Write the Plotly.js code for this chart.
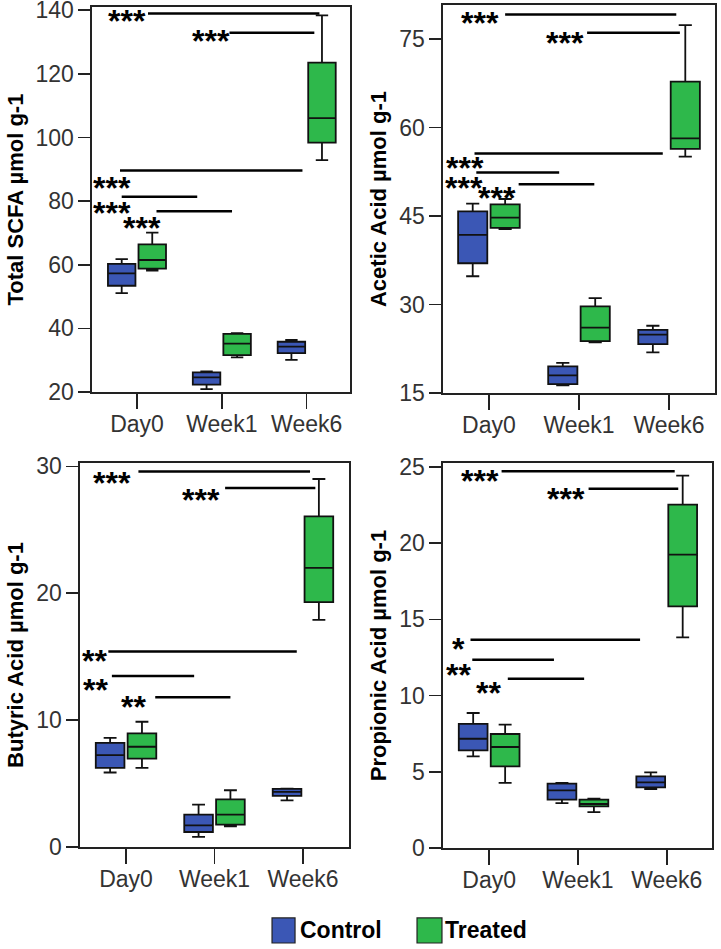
<!DOCTYPE html>
<html>
<head>
<meta charset="utf-8">
<script src="https://cdn.plot.ly/plotly-3.0.1.min.js"></script>
<style>
  body { margin: 0; background: #fff; }
  #chart { width: 721px; height: 949px; }
</style>
</head>
<body>
<div id="chart"></div>
<script>
// categories
var timepoints = ['Day0', 'Week1', 'Week6'];

// Total SCFA
var scfaCtrlQ1 = [53.4, 22.3, 32.2], scfaCtrlMed = [57.3, 24.6, 34.3], scfaCtrlQ3 = [60.3, 26.2, 35.8];
var scfaCtrlLo = [51.1, 20.9, 30.1], scfaCtrlHi = [61.8, 26.5, 36.4];
var scfaTrtQ1 = [58.8, 31.6, 98.4], scfaTrtMed = [61.5, 35.2, 106.1], scfaTrtQ3 = [66.4, 38.3, 123.5];
var scfaTrtLo = [58.2, 30.9, 92.9], scfaTrtHi = [70.1, 38.5, 138.4];

// Acetic acid
var aceCtrlQ1 = [37.0, 16.5, 23.3], aceCtrlMed = [41.8, 18.0, 24.9], aceCtrlQ3 = [45.8, 19.5, 25.7];
var aceCtrlLo = [34.8, 16.3, 21.9], aceCtrlHi = [47.1, 20.1, 26.4];
var aceTrtQ1 = [43.0, 23.8, 56.4], aceTrtMed = [44.75, 26.1, 58.2], aceTrtQ3 = [47.0, 29.7, 67.8];
var aceTrtLo = [42.8, 23.6, 55.1], aceTrtHi = [47.9, 31.1, 77.4];

// Butyric acid
var butCtrlQ1 = [6.24, 1.18, 4.03], butCtrlMed = [7.24, 1.71, 4.34], butCtrlQ3 = [8.2, 2.55, 4.58];
var butCtrlLo = [5.87, 0.79, 3.68], butCtrlHi = [8.6, 3.34, 4.6];
var butTrtQ1 = [6.97, 1.76, 19.3], butTrtMed = [7.9, 2.55, 22.0], butTrtQ3 = [8.95, 3.76, 26.05];
var butTrtLo = [6.24, 1.63, 17.9], butTrtHi = [9.87, 4.47, 29.0];

// Propionic acid
var proCtrlQ1 = [6.41, 3.17, 3.98], proCtrlMed = [7.17, 3.78, 4.31], proCtrlQ3 = [8.14, 4.22, 4.7];
var proCtrlLo = [6.01, 2.95, 3.87], proCtrlHi = [8.86, 4.27, 4.96];
var proTrtQ1 = [5.36, 2.73, 15.86], proTrtMed = [6.63, 2.89, 19.25], proTrtQ3 = [7.48, 3.17, 22.53];
var proTrtLo = [4.27, 2.36, 13.82], proTrtHi = [8.09, 3.24, 24.43];

// significance brackets: label, line start, line end, line level, label x, label y
var scfaSigText = ['***', '***', '***', '***', '***'];
var scfaSigX0 = [0.13, 1.09, -0.2, -0.18, 0.23];
var scfaSigX1 = [2.15, 2.09, 1.95, 0.71, 1.12];
var scfaSigY = [139, 132.9, 89.6, 81.4, 76.8];
var scfaSigTx = [-0.12, 0.87, -0.29, -0.29, 0.06];
var scfaSigTy = [139, 132.9, 86.6, 78.8, 74.1];

var aceSigText = ['***', '***', '***', '***', '***'];
var aceSigX0 = [0.18, 1.09, -0.16, -0.14, 0.33];
var aceSigX1 = [2.08, 2.12, 1.93, 0.78, 1.17];
var aceSigY = [79.2, 76.1, 55.6, 52.4, 50.4];
var aceSigTx = [-0.1, 0.84, -0.27, -0.28, 0.09];
var aceSigTy = [79.1, 75.7, 54.5, 51.1, 49.4];

var butSigText = ['***', '***', '**', '**', '**'];
var butSigX0 = [0.14, 1.12, -0.2, -0.16, 0.33];
var butSigX1 = [2.08, 2.14, 1.93, 0.77, 1.18];
var butSigY = [29.6, 28.3, 15.4, 13.47, 11.8];
var butSigTx = [-0.16, 0.85, -0.36, -0.34, 0.09];
var butSigTy = [29.34, 28.0, 15.26, 13.03, 11.7];

var proSigText = ['***', '***', '*', '**', '**'];
var proSigX0 = [0.14, 1.12, -0.21, -0.19, 0.21];
var proSigX1 = [2.09, 2.13, 1.7, 0.73, 1.07];
var proSigY = [24.72, 23.58, 13.67, 12.36, 11.1];
var proSigTx = [-0.1, 0.87, -0.34, -0.34, -0.01];
var proSigTy = [24.6, 23.4, 13.56, 11.9, 10.7];

var ctrlColor = '#3B57B5';
var trtColor = '#2EB84B';

function boxTrace(name, color, q1, med, q3, lo, hi, ax) {
  return {
    type: 'box', name: name, x: timepoints,
    q1: q1, median: med, q3: q3, lowerfence: lo, upperfence: hi,
    xaxis: 'x' + ax, yaxis: 'y' + ax,
    alignmentgroup: 'panel' + ax, offsetgroup: name,
    fillcolor: color, line: { color: '#111', width: 1.8 },
    whiskerwidth: 0.45, boxpoints: false, hoverinfo: 'skip',
    showlegend: false
  };
}

var data = [
  boxTrace('Control', ctrlColor, scfaCtrlQ1, scfaCtrlMed, scfaCtrlQ3, scfaCtrlLo, scfaCtrlHi, ''),
  boxTrace('Treated', trtColor, scfaTrtQ1, scfaTrtMed, scfaTrtQ3, scfaTrtLo, scfaTrtHi, ''),
  boxTrace('Control', ctrlColor, aceCtrlQ1, aceCtrlMed, aceCtrlQ3, aceCtrlLo, aceCtrlHi, '2'),
  boxTrace('Treated', trtColor, aceTrtQ1, aceTrtMed, aceTrtQ3, aceTrtLo, aceTrtHi, '2'),
  boxTrace('Control', ctrlColor, butCtrlQ1, butCtrlMed, butCtrlQ3, butCtrlLo, butCtrlHi, '3'),
  boxTrace('Treated', trtColor, butTrtQ1, butTrtMed, butTrtQ3, butTrtLo, butTrtHi, '3'),
  boxTrace('Control', ctrlColor, proCtrlQ1, proCtrlMed, proCtrlQ3, proCtrlLo, proCtrlHi, '4'),
  boxTrace('Treated', trtColor, proTrtQ1, proTrtMed, proTrtQ3, proTrtLo, proTrtHi, '4')
];

var shapes = [];
var annotations = [];

function addSig(ax, txt, x0, x1, y, tx, ty) {
  for (let i = 0; i < txt.length; i++) {
    shapes.push({
      type: 'line', xref: 'x' + ax, yref: 'y' + ax,
      x0: x0[i], x1: x1[i], y0: y[i], y1: y[i],
      line: { color: '#000', width: 2.5 }
    });
    annotations.push({
      xref: 'x' + ax, yref: 'y' + ax, x: tx[i], y: ty[i],
      text: '<b>' + txt[i] + '</b>', showarrow: false, yanchor: 'middle', yshift: -8,
      font: { family: 'Liberation Sans, Arial, sans-serif', size: 32, color: '#000' }
    });
  }
}
addSig('', scfaSigText, scfaSigX0, scfaSigX1, scfaSigY, scfaSigTx, scfaSigTy);
addSig('2', aceSigText, aceSigX0, aceSigX1, aceSigY, aceSigTx, aceSigTy);
addSig('3', butSigText, butSigX0, butSigX1, butSigY, butSigTx, butSigTy);
addSig('4', proSigText, proSigX0, proSigX1, proSigY, proSigTx, proSigTy);

// legend drawn by hand so the swatches can be large
shapes.push({ type: 'rect', xref: 'paper', yref: 'paper', x0: 0.3773, x1: 0.4092, y0: 0.0063, y1: 0.0327,
  fillcolor: ctrlColor, line: { color: '#222', width: 1.2 } });
shapes.push({ type: 'rect', xref: 'paper', yref: 'paper', x0: 0.5784, x1: 0.6130, y0: 0.0063, y1: 0.0327,
  fillcolor: trtColor, line: { color: '#222', width: 1.2 } });
annotations.push({ xref: 'paper', yref: 'paper', x: 0.414, y: 0.0195, xanchor: 'left', yanchor: 'middle',
  text: '<b>Control</b>', showarrow: false, font: { family: 'Liberation Sans, Arial, sans-serif', size: 23, color: '#000' } });
annotations.push({ xref: 'paper', yref: 'paper', x: 0.615, y: 0.0195, xanchor: 'left', yanchor: 'middle',
  text: '<b>Treated</b>', showarrow: false, font: { family: 'Liberation Sans, Arial, sans-serif', size: 23, color: '#000' } });

var tickFont = { family: 'Liberation Sans, Arial, sans-serif', size: 23, color: '#333' };
var titleFont = { family: 'Liberation Sans, Arial, sans-serif', size: 22, color: '#000' };

function xAxis(domain, anchor, range) {
  return {
    domain: domain, anchor: anchor, type: 'category', range: range,
    showline: true, mirror: true, linecolor: '#222', linewidth: 1.6,
    ticks: 'outside', ticklen: 15, tickwidth: 1.6, tickcolor: '#222',
    ticklabelstandoff: -4,
    showgrid: false, zeroline: false, tickfont: tickFont, fixedrange: true
  };
}
function yAxis(domain, anchor, range, dtick, title) {
  return {
    domain: domain, anchor: anchor, range: range, dtick: dtick, tick0: 0,
    showline: true, mirror: true, linecolor: '#222', linewidth: 1.6,
    ticks: 'outside', ticklen: 12, tickwidth: 1.6, tickcolor: '#222',
    showgrid: false, zeroline: false, tickfont: tickFont,
    ticklabeloverflow: 'allow',
    title: { text: '<b>' + title + '</b>', font: titleFont, standoff: 6 },
    fixedrange: true
  };
}

var layout = {
  width: 721, height: 949,
  margin: { l: 0, r: 0, t: 0, b: 0 },
  paper_bgcolor: '#fff', plot_bgcolor: '#fff',
  boxmode: 'group', boxgap: 0.28, boxgroupgap: 0.1,
  showlegend: false,
  xaxis: xAxis([0.1276, 0.4854], 'y', [-0.53, 2.51]),
  yaxis: yAxis([0.5869, 0.9926], 'x', [20, 141.0], 20, 'Total SCFA µmol g-1'),
  xaxis2: xAxis([0.6144, 0.9917], 'y2', [-0.51, 2.51]),
  yaxis2: yAxis([0.5859, 0.9947], 'x2', [15, 80.8], 15, 'Acetic Acid µmol g-1'),
  xaxis3: xAxis([0.111, 0.484], 'y3', [-0.52, 2.52]),
  yaxis3: yAxis([0.1075, 0.5121], 'x3', [0, 30.26], 10, 'Butyric Acid µmol g-1'),
  xaxis4: xAxis([0.6144, 0.9875], 'y4', [-0.52, 2.51]),
  yaxis4: yAxis([0.1064, 0.5121], 'x4', [0, 25.26], 5, 'Propionic Acid µmol g-1'),
  shapes: shapes,
  annotations: annotations
};

Plotly.newPlot('chart', data, layout, { displayModeBar: false, staticPlot: true });
</script>
</body>
</html>
